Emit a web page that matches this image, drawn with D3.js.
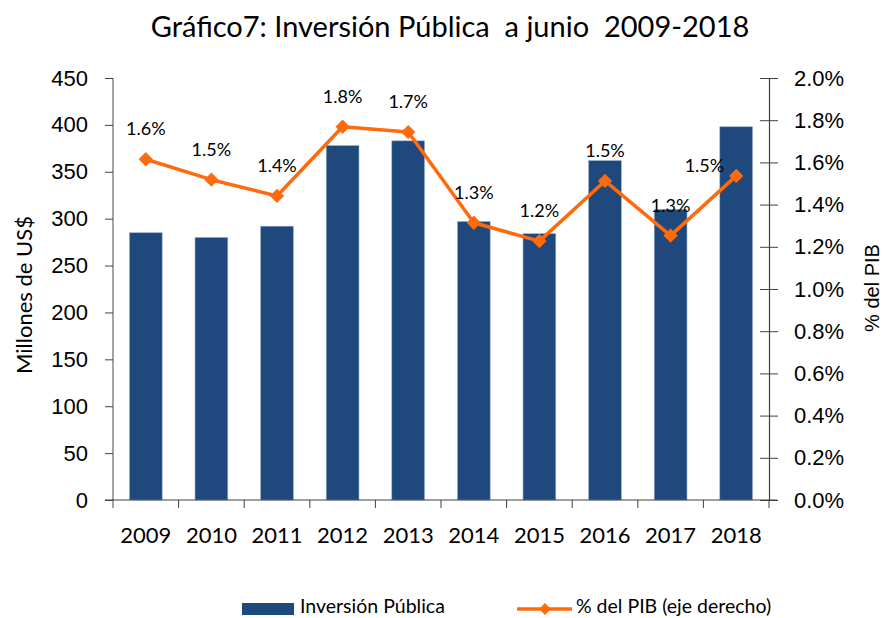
<!DOCTYPE html>
<html>
<head>
<meta charset="utf-8">
<script src="https://cdn.jsdelivr.net/npm/d3@7"></script>
<style>
  body { margin: 0; background: #fff; }
  svg { display: block; font-family: Lato, "Open Sans", sans-serif; }
</style>
</head>
<body>
<svg id="chart" width="884" height="618"></svg>
<script>
  const years = ["2009", "2010", "2011", "2012", "2013", "2014", "2015", "2016", "2017", "2018"];
  const inversion = [285, 280, 292, 378, 383, 297, 284, 362, 310, 398];
  const pctPib = [1.615, 1.518, 1.441, 1.769, 1.744, 1.314, 1.227, 1.512, 1.253, 1.536];
  const leftTicks = [0, 50, 100, 150, 200, 250, 300, 350, 400, 450];
  const rightTicks = [0, 0.2, 0.4, 0.6, 0.8, 1.0, 1.2, 1.4, 1.6, 1.8, 2.0];

  const svg = d3.select("#chart");
  const margin = { top: 78, right: 115, bottom: 118, left: 113 };
  const width = 884, height = 618;
  const innerW = width - margin.left - margin.right;
  const innerH = height - margin.top - margin.bottom;

  const BLUE = "#1F497D";
  const ORANGE = "#FF6A0D";

  const g = svg.append("g").attr("transform", `translate(${margin.left},${margin.top})`);

  const x = d3.scaleBand().domain(years).range([0, innerW]).paddingInner(0.5).paddingOuter(0.25);
  const xStep = d3.scaleBand().domain(years).range([0, innerW]);
  const y = d3.scaleLinear().domain([0, 450]).range([innerH, 0]);
  const y2 = d3.scaleLinear().domain([0, 2.0]).range([innerH, 0]);

  /* ---------- TITLE ---------- */
  svg.append("text")
    .attr("x", 450).attr("y", 37)
    .attr("text-anchor", "middle")
    .style("font-size", "29px")
    .attr("fill", "#000")
    .attr("xml:space", "preserve")
    .text("Gráfico7: Inversión Pública  a junio  2009-2018");

  /* ---------- BARS ---------- */
  g.selectAll("rect.bar")
    .data(years)
    .join("rect")
    .attr("class", "bar")
    .attr("x", d => x(d))
    .attr("width", x.bandwidth())
    .attr("y", (d, i) => y(inversion[i]))
    .attr("height", (d, i) => innerH - y(inversion[i]))
    .attr("fill", BLUE)
    .attr("stroke", "#9db3cf")
    .attr("stroke-width", 0.6);

  /* ---------- AXES ---------- */
  const leftAxis = g.append("g")
    .call(d3.axisLeft(y).tickValues(leftTicks).tickSize(8).tickPadding(17).tickSizeOuter(0));
  leftAxis.select(".domain").attr("stroke", "#868686").attr("stroke-width", 1.5)
    .attr("d", `M0,0V${innerH + 8}`);
  leftAxis.selectAll(".tick line").attr("stroke", "#404040");
  leftAxis.selectAll(".tick text").style("font-size", "22px").attr("fill", "#000");

  const bottom = g.append("g").attr("transform", `translate(0,${innerH})`);
  bottom.append("line").attr("x1", -8).attr("x2", innerW + 8).attr("stroke", "#404040").attr("stroke-width", 1.2);
  bottom.selectAll("line.tk")
    .data(years.slice(1))
    .join("line")
    .attr("class", "tk")
    .attr("x1", d => xStep(d)).attr("x2", d => xStep(d))
    .attr("y1", 0).attr("y2", 8)
    .attr("stroke", "#404040");
  bottom.append("line").attr("x1", innerW).attr("x2", innerW).attr("y1", 0).attr("y2", 8).attr("stroke", "#404040");
  bottom.selectAll("text.yr")
    .data(years)
    .join("text")
    .attr("class", "yr")
    .attr("x", d => xStep(d) + xStep.bandwidth() / 2)
    .attr("y", 43)
    .attr("text-anchor", "middle")
    .style("font-size", "22px")
    .text(d => d);

  const rightAxis = g.append("g").attr("transform", `translate(${innerW},0)`)
    .call(d3.axisRight(y2).tickValues(rightTicks).tickSize(0).tickPadding(25)
      .tickFormat(d => d3.format(".1f")(d) + "%"));
  rightAxis.select(".domain").attr("stroke", "#404040").attr("stroke-width", 1.2);
  rightAxis.selectAll(".tick").append("line")
    .attr("x1", -9).attr("x2", 9).attr("stroke", "#404040");
  rightAxis.selectAll(".tick text").style("font-size", "22px").attr("fill", "#000");

  /* ---------- AXIS TITLES ---------- */
  svg.append("text")
    .attr("transform", "translate(32,295) rotate(-90)")
    .attr("text-anchor", "middle")
    .style("font-size", "22px")
    .text("Millones de US$");
  svg.append("text")
    .attr("transform", "translate(879,288) rotate(-90)")
    .attr("text-anchor", "middle")
    .style("font-family", "'Liberation Sans', Arial, sans-serif")
    .style("font-size", "20px")
    .text("% del PIB");

  /* ---------- LINE ---------- */
  const cx = d => xStep(d) + xStep.bandwidth() / 2;
  const line = d3.line()
    .x((d, i) => cx(years[i]))
    .y(d => y2(d));

  g.append("path")
    .datum(pctPib)
    .attr("d", line)
    .attr("fill", "none")
    .attr("stroke", ORANGE)
    .attr("stroke-width", 3.5)
    .attr("stroke-linejoin", "round");

  const diamond = d3.symbol().type(d3.symbolDiamond2).size(130);
  g.selectAll("path.mk")
    .data(pctPib)
    .join("path")
    .attr("class", "mk")
    .attr("d", diamond)
    .attr("transform", (d, i) => `translate(${cx(years[i])},${y2(d)})`)
    .attr("fill", ORANGE);

  g.selectAll("text.lbl")
    .data(pctPib)
    .join("text")
    .attr("class", "lbl")
    .attr("x", (d, i) => i === 9 ? cx(years[i]) - 12 : cx(years[i]))
    .attr("y", (d, i) => i === 9 ? y2(d) - 4 : y2(d) - 24)
    .attr("text-anchor", (d, i) => i === 9 ? "end" : "middle")
    .style("font-size", "18px")
    .text(d => d3.format(".1f")(d) + "%");

  /* ---------- LEGEND ---------- */
  const leg = svg.append("g");
  leg.append("rect").attr("x", 242).attr("y", 603).attr("width", 52).attr("height", 12).attr("fill", BLUE);
  leg.append("text").attr("x", 300).attr("y", 613).style("font-size", "19.5px").text("Inversión Pública");
  leg.append("line").attr("x1", 517).attr("x2", 572).attr("y1", 609).attr("y2", 609)
    .attr("stroke", ORANGE).attr("stroke-width", 3.5);
  leg.append("path").attr("d", d3.symbol().type(d3.symbolDiamond2).size(90))
    .attr("transform", "translate(545,609)").attr("fill", ORANGE);
  leg.append("text").attr("x", 576).attr("y", 613).style("font-size", "19.5px").text("% del PIB (eje derecho)");
</script>
</body>
</html>
